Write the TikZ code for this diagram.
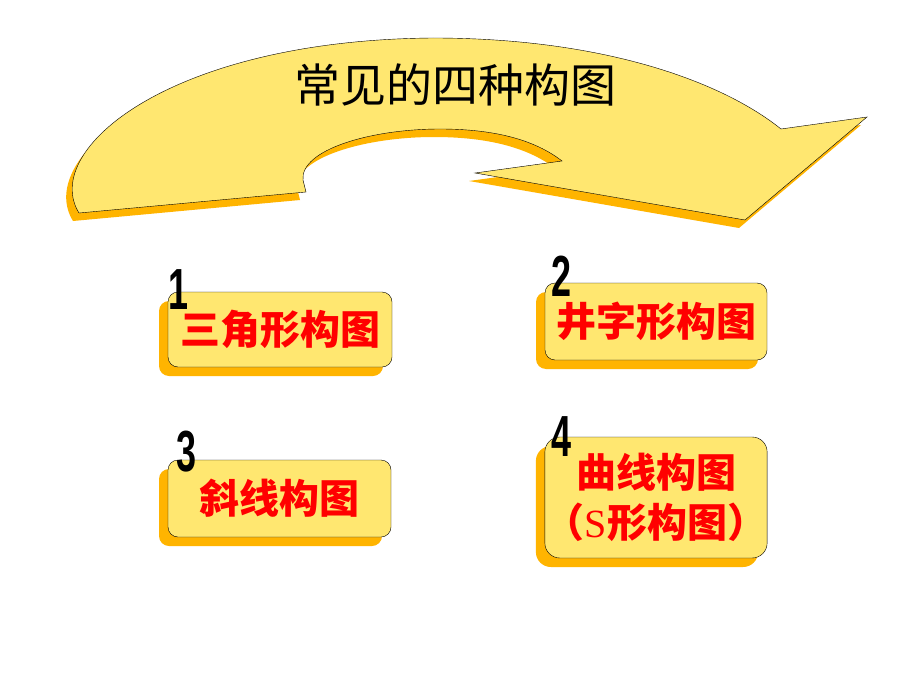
\documentclass[tikz,border=0pt]{standalone}
\usepackage{fontspec}
\setmainfont{Liberation Serif}
\setsansfont{Liberation Sans}
\newfontfamily\cjk{Noto Sans CJK SC}
\usetikzlibrary{shadows}
\usetikzlibrary{positioning}
\definecolor{paleyellow}{RGB}{255,231,112}
\definecolor{deeporange}{RGB}{255,180,0}
\tikzset{
    arrowbody/.style = {thin,draw=black,fill=paleyellow},
    arrowshadow/.style = {draw=none,fill=deeporange,shift={(-6,8)}},
    card/.style = {rectangle, rounded corners=10pt, thin, draw=black, fill=paleyellow, align=center, inner sep=0pt,
        drop shadow={shadow xshift=-9pt,shadow yshift=-9pt,fill=deeporange,opacity=1},
        text=red, font=\cjk\bfseries\fontsize{40}{50}\selectfont},
    numlabel/.style = {inner sep=0pt, font=\sffamily\bfseries\fontsize{58}{58}\selectfont},
    titletext/.style = {font=\cjk\fontsize{46}{46}\selectfont}
}
\newcommand{\bigarrow}{(79,213) .. controls (40,150) and (170,40) .. (433,38)
    .. controls (600,38) and (720,80) .. (781,129) -- (867,117) -- (745,220)
    -- (475,173) -- (562,161) .. controls (535,140) and (495,129) .. (440,129)
    .. controls (370,129) and (300,150) .. (303,180) -- (306,192) -- cycle}
\newcommand{\narrow}[1]{\scalebox{0.62}[1]{#1}}

\begin{document}
\begin{tikzpicture}[x=1pt,y=-1pt]
\useasboundingbox[fill=white] (0,0) rectangle (920,690);
%
\fill[arrowshadow] \bigarrow;
\draw[arrowbody] \bigarrow;
\node[titletext] at (455,85) (title) {常见的四种构图};
%
\node[card, minimum width=224pt, minimum height=75pt] at (280,329.5) (box1) {三角形构图};
\node[card, minimum width=222pt, minimum height=77pt] at (656,321.5) (box2) {井字形构图};
\node[card, minimum width=223pt, minimum height=77pt] at (279.5,498.5) (box3) {斜线构图};
\node[card, minimum width=222pt, minimum height=121pt, rounded corners=15pt] at (656,497.5) (box4) {曲线构图\\（{\rmfamily\mdseries S}形构图）};
%
\node[numlabel] at (178,290) (n1) {\narrow{1}};
\node[numlabel] at (561,276) (n2) {\narrow{2}};
\node[numlabel] at (186,452) (n3) {\narrow{3}};
\node[numlabel] at (561,437) (n4) {\narrow{4}};
\end{tikzpicture}
\end{document}
